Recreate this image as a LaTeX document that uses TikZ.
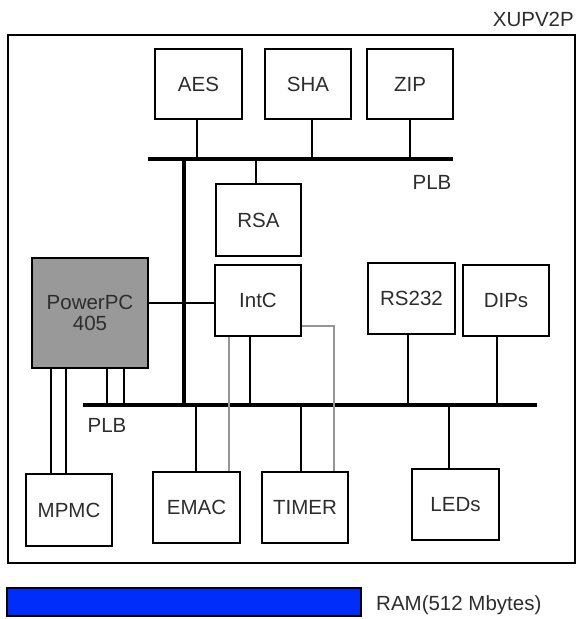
\documentclass[tikz,border=0pt]{standalone}
\usepackage{fontspec}
\setmainfont{Liberation Sans}
\usepackage{xcolor}
\usepackage{tikz}
\usetikzlibrary{positioning}
\definecolor{CpuGray}{RGB}{153,153,153}
\definecolor{RamBlue}{RGB}{0,45,250}
\definecolor{WireGray}{RGB}{150,150,150}
\definecolor{LabelGray}{RGB}{45,45,45}
\tikzset{
  block/.style={draw, line width=1.6pt, fill=white, inner sep=0pt,
    minimum width=86pt, minimum height=71pt, text=LabelGray,
    font=\fontsize{20.5}{21}\selectfont},
  bus/.style={line width=3.5pt},
  wire/.style={line width=1.6pt},
  irq/.style={line width=1.1pt, WireGray},
  tag/.style={inner sep=0pt, text=LabelGray, font=\fontsize{20.5}{21}\selectfont}
}

\begin{document}
\begin{tikzpicture}[x=1pt, y=-1pt]
  \useasboundingbox (0,0) rectangle (577,619);

  % board frame
  \draw[line width=1.6pt] (8,35) rectangle (575,563);
  \node[tag, anchor=east] (board) at (574,19) {XUPV2P};

  % bus end points
  \coordinate (toplft) at (148,159);
  \coordinate (toprgt) at (453,159);
  \coordinate (botlft) at (83,405);
  \coordinate (botrgt) at (537,405);
  \coordinate (vtop) at (184,159);
  \coordinate (vbot) at (184,405);

  % peripherals
  \node[block, minimum width=87pt, minimum height=70pt] (aes) at (198.5,84) {AES};
  \node[block, minimum height=70pt] (sha) at (308,84) {SHA};
  \node[block, minimum height=70pt] (zip) at (410,84) {ZIP};
  \node[block, minimum width=85pt, minimum height=72pt] (rsa) at (258.5,220) {RSA};
  \node[block] (intc) at (258,300.5) {IntC};
  \node[block, fill=CpuGray, minimum width=116pt, minimum height=110pt,
    align=center] (ppc) at (90,313) {PowerPC\\405};
  \node[block, minimum width=87pt] (rs232) at (411.5,298.5) {RS232};
  \node[block] (dips) at (506,300.5) {DIPs};
  \node[block, minimum height=72pt] (mpmc) at (69,510) {MPMC};
  \node[block, minimum width=87pt] (emac) at (196.5,507.5) {EMAC};
  \node[block] (timer) at (305,507.5) {TIMER};
  \node[block, minimum width=87pt] (leds) at (455.5,504.5) {LEDs};

  % PLB buses
  \draw[bus] (toplft) -- (toprgt);
  \draw[bus] (vtop) -- (vbot);
  \draw[bus] (botlft) -- (botrgt);
  \node[tag] (plbtop) at (432,182) {PLB};
  \node[tag] (plbbot) at (107,425) {PLB};

  % taps on the upper bus
  \draw[wire] ([xshift=-1.5pt]aes.south) -- ([xshift=-1.5pt]aes.south |- toplft);
  \draw[wire] ([xshift=4pt]sha.south) -- ([xshift=4pt]sha.south |- toplft);
  \draw[wire] (zip.south) -- (zip.south |- toplft);
  \draw[wire] ([xshift=-2.5pt]rsa.north) -- ([xshift=-2.5pt]rsa.north |- toplft);

  % processor
  \draw[wire] ([yshift=-2.5pt]intc.west) -- ([yshift=-2.5pt]intc.west -| ppc.east);
  \draw[wire] ([xshift=17pt]ppc.south) -- ([xshift=17pt]ppc.south |- botlft);
  \draw[wire] ([xshift=34pt]ppc.south) -- ([xshift=34pt]ppc.south |- botlft);
  \draw[wire] ([xshift=-39pt]ppc.south) -- ([xshift=-39pt]ppc.south |- mpmc.north);
  \draw[wire] ([xshift=-24pt]ppc.south) -- ([xshift=-24pt]ppc.south |- mpmc.north);

  % taps on the lower bus
  \draw[wire] ([xshift=-8pt]intc.south) -- ([xshift=-8pt]intc.south |- botlft);
  \draw[wire] ([xshift=-3.5pt]rs232.south) -- ([xshift=-3.5pt]rs232.south |- botlft);
  \draw[wire] ([xshift=-9pt]dips.south) -- ([xshift=-9pt]dips.south |- botlft);
  \draw[wire] ([xshift=-0.5pt]emac.north) -- ([xshift=-0.5pt]emac.north |- botlft);
  \draw[wire] ([xshift=-4pt]timer.north) -- ([xshift=-4pt]timer.north |- botlft);
  \draw[wire] ([xshift=-6.5pt]leds.north) -- ([xshift=-6.5pt]leds.north |- botlft);

  % interrupt lines
  \draw[irq] ([xshift=-29pt]intc.south) -- ([xshift=-29pt]intc.south |- emac.north);
  \draw[irq] ([yshift=-25.5pt]intc.east) -| ([xshift=29pt]timer.north);

  % memory
  \draw[line width=1.6pt, fill=RamBlue] (7,588) rectangle (361,616);
  \node[tag, anchor=west] (ram) at (376,605) {RAM(512 Mbytes)};
\end{tikzpicture}
\end{document}
